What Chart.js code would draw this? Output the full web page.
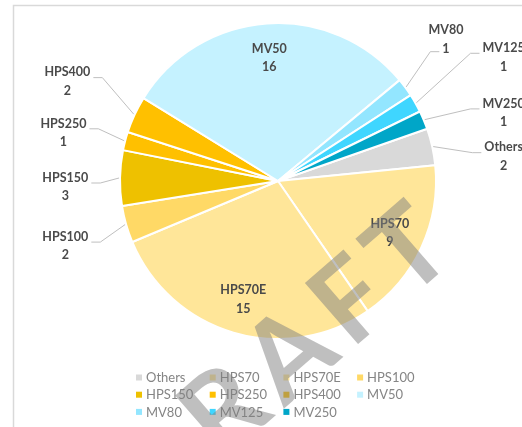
<!DOCTYPE html>
<html>
<head>
<meta charset="utf-8">
<script src="https://cdn.jsdelivr.net/npm/chart.js@4/dist/chart.umd.min.js"></script>
<style>
  html, body { margin: 0; padding: 0; background: #ffffff; overflow: hidden; }
  #wrap { position: relative; width: 522px; height: 427px; }
</style>
</head>
<body>
<div id="wrap"><canvas id="c" width="522" height="427"></canvas></div>
<script>
// Luminaire types and how many of each are installed
const categories = ['Others', 'HPS70', 'HPS70E', 'HPS100', 'HPS150', 'HPS250', 'HPS400', 'MV50', 'MV80', 'MV125', 'MV250'];
const counts     = [2, 9, 15, 2, 3, 1, 2, 16, 1, 1, 1];
const sliceColors = ['#D9D9D9', '#FFE699', '#FFE699', '#FFD966', '#EEC100', '#FFC000', '#FFC000',
                     '#C5F2FF', '#93E6FF', '#3FD6FF', '#00A6C8'];

// Where the small-slice callouts sit, in units of the pie radius from its centre
const calloutLayout = {
  MV80:   { dx:  1.063, dy: -0.896, attach: 'value' },
  MV125:  { dx:  1.428, dy: -0.783 },
  MV250:  { dx:  1.428, dy: -0.431 },
  Others: { dx:  1.428, dy: -0.154 },
  HPS400: { dx: -1.333, dy: -0.629 },
  HPS250: { dx: -1.358, dy: -0.305 },
  HPS150: { dx: -1.346, dy:  0.038 },
  HPS100: { dx: -1.346, dy:  0.412 }
};

const LABEL_FONT = 'bold 12.5px Lato, "Open Sans", sans-serif';
const LABEL_COLOR = '#4A4A4A';
const LINE_GAP = 18.5;

// Frame around the chart area
const framePlugin = {
  id: 'frame',
  beforeDraw(chart) {
    const ctx = chart.ctx;
    ctx.save();
    ctx.fillStyle = '#ffffff';
    ctx.fillRect(0, 0, chart.width, chart.height);
    ctx.strokeStyle = '#D9D9D9';
    ctx.lineWidth = 1.5;
    ctx.strokeRect(13.5, 5.5, 800, 800);
    ctx.restore();
  }
};

// Category name + count on each slice, with leader lines for the thin ones
const sliceLabelPlugin = {
  id: 'sliceLabels',
  afterDatasetsDraw(chart) {
    const ctx = chart.ctx;
    const meta = chart.getDatasetMeta(0);
    const total = counts.reduce((a, b) => a + b, 0);
    ctx.save();
    ctx.font = LABEL_FONT;
    ctx.fillStyle = LABEL_COLOR;
    ctx.textAlign = 'center';
    ctx.textBaseline = 'middle';
    meta.data.forEach((arc, i) => {
      const p = arc.getProps(['x', 'y', 'startAngle', 'endAngle', 'outerRadius'], true);
      const mid = (p.startAngle + p.endAngle) / 2;
      const r = p.outerRadius;
      const name = categories[i];
      const val = String(counts[i]);
      let cx, cy;
      if (counts[i] / total >= 0.1) {
        cx = p.x + Math.cos(mid) * r * 0.78;
        cy = p.y + Math.sin(mid) * r * 0.78;
      } else {
        const L = calloutLayout[name];
        cx = p.x + L.dx * r;
        cy = p.y + L.dy * r;
        const w1 = ctx.measureText(name).width;
        const w2 = ctx.measureText(val).width;
        const onRight = cx > p.x;
        let ay, hw;
        if (L.attach === 'value') { ay = cy + LINE_GAP / 2 + 3; hw = w2 / 2; }
        else { ay = cy - 4; hw = Math.max(w1, w2) / 2; }
        const sx = onRight ? cx - hw - 3 : cx + hw + 3;
        const ex = onRight ? sx - 9 : sx + 9;
        const px = p.x + Math.cos(mid) * (r + 1);
        const py = p.y + Math.sin(mid) * (r + 1);
        ctx.save();
        ctx.strokeStyle = '#BFBFBF';
        ctx.lineWidth = 1;
        ctx.beginPath();
        ctx.moveTo(px, py);
        ctx.lineTo(ex, ay);
        ctx.lineTo(sx, ay);
        ctx.stroke();
        ctx.restore();
      }
      ctx.fillText(name, cx, cy - LINE_GAP / 2);
      ctx.fillText(val, cx, cy + LINE_GAP / 2);
    });
    ctx.restore();
  }
};

// Grid legend under the pie, then the DRAFT stamp over everything
const legendAndStampPlugin = {
  id: 'legendStamp',
  afterDraw(chart) {
    const ctx = chart.ctx;
    const cols = 4, x0 = 136, colW = 73.7, y0 = 377.5, rowH = 17.2;
    ctx.save();
    ctx.font = '13px Lato, "Open Sans", sans-serif';
    ctx.textBaseline = 'middle';
    ctx.textAlign = 'left';
    categories.forEach((name, i) => {
      const col = i % cols, row = Math.floor(i / cols);
      const x = x0 + col * colW, y = y0 + row * rowH;
      ctx.fillStyle = sliceColors[i];
      ctx.fillRect(x, y - 3, 6, 6);
      ctx.fillStyle = '#858585';
      ctx.fillText(name, x + 10, y + 0.5);
    });
    ctx.restore();

    // Stamp letters are set right-to-left from the end of the word, spaced out
    ctx.save();
    ctx.translate(458, 257);
    ctx.rotate(-41 * Math.PI / 180);
    ctx.font = 'bold 112px Lato, sans-serif';
    ctx.textAlign = 'right';
    ctx.textBaseline = 'alphabetic';
    ctx.fillStyle = 'rgba(128,128,128,0.5)';
    const letters = 'DRAFT'.split('');
    const gap = 11;
    let x = 0;
    for (let i = letters.length - 1; i >= 0; i--) {
      ctx.fillText(letters[i], x, 0);
      x -= ctx.measureText(letters[i]).width + gap;
    }
    ctx.restore();
  }
};

new Chart(document.getElementById('c'), {
  type: 'pie',
  data: {
    labels: categories,
    datasets: [{
      data: counts,
      backgroundColor: sliceColors,
      borderColor: '#ffffff',
      borderWidth: 2
    }]
  },
  options: {
    responsive: false,
    animation: false,
    rotation: 70.7,
    layout: { padding: { left: 119, right: 85, top: 22, bottom: 87 } },
    plugins: {
      legend: { display: false },
      tooltip: { enabled: false }
    }
  },
  plugins: [framePlugin, sliceLabelPlugin, legendAndStampPlugin]
});
</script>
</body>
</html>
